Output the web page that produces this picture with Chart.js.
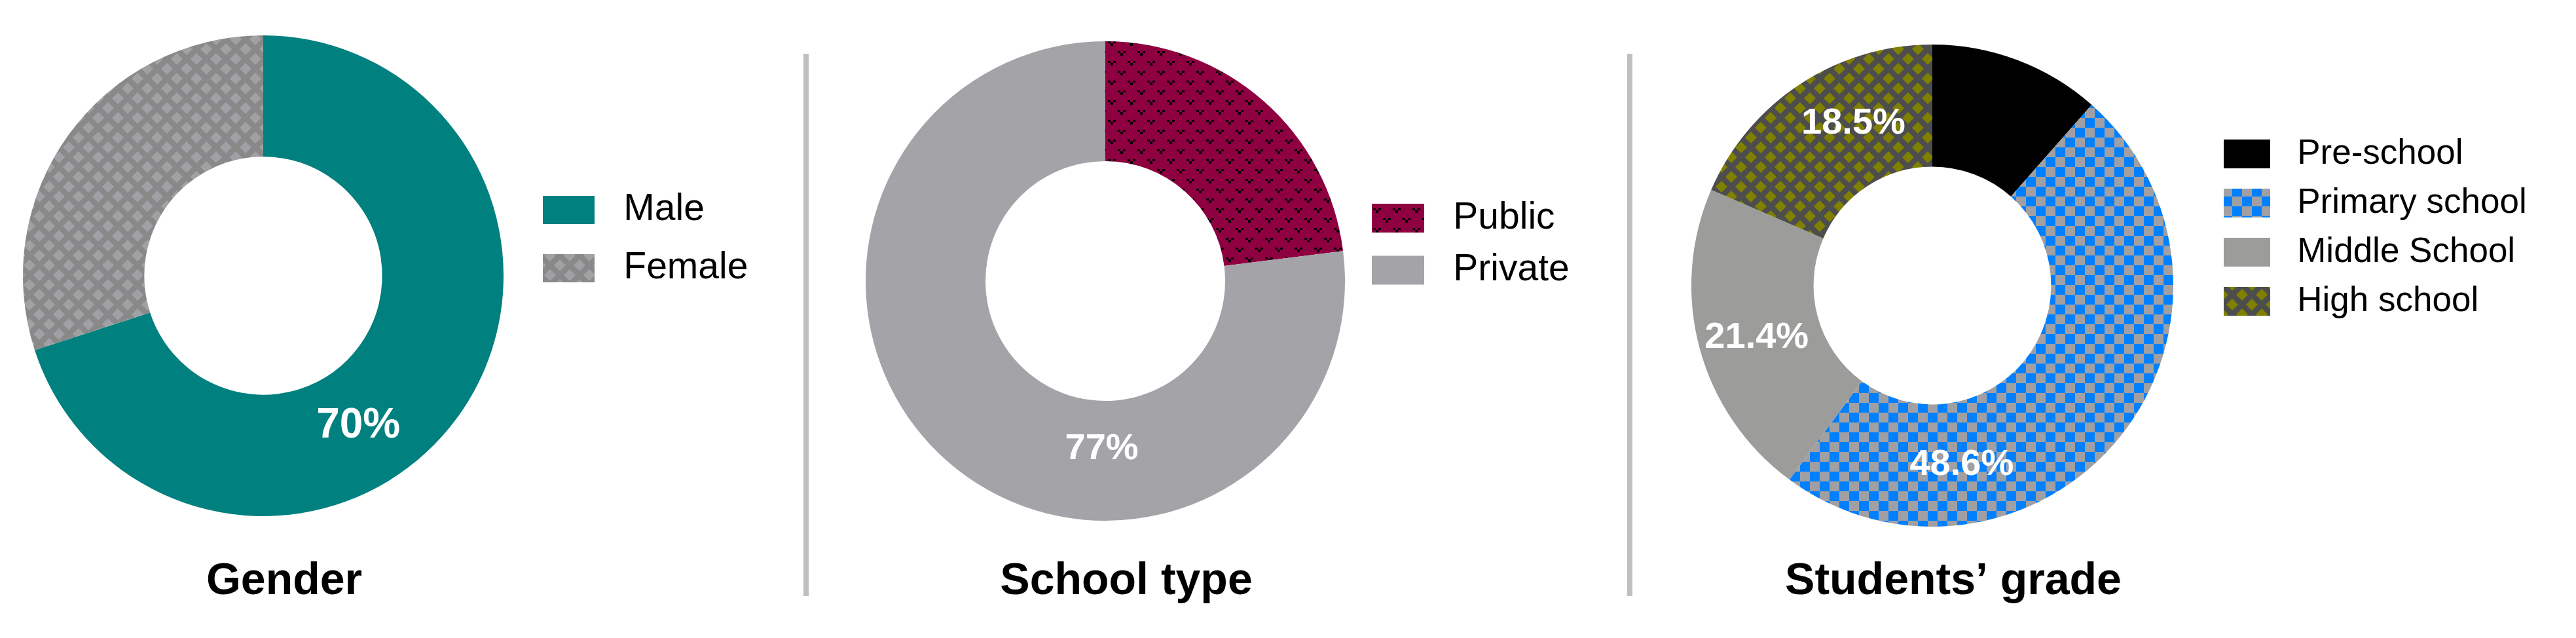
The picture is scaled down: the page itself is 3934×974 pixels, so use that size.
<!DOCTYPE html>
<html>
<head>
<meta charset="utf-8">
<script src="https://cdn.jsdelivr.net/npm/chart.js@4.4.1/dist/chart.umd.min.js"></script>
<style>
  html, body { margin: 0; padding: 0; background: #fff; overflow: hidden; }
  #page { position: relative; width: 3934px; height: 974px; }
  canvas { position: absolute; top: 0; }
  .sep { position: absolute; top: 82px; width: 8px; height: 828px; background: #c0c0c0; }
</style>
</head>
<body>
<div id="page">
  <canvas id="genderChart" width="1230" height="974" style="left:0px"></canvas>
  <div class="sep" style="left:1227px"></div>
  <canvas id="schoolChart" width="1240" height="974" style="left:1240px"></canvas>
  <div class="sep" style="left:2485px"></div>
  <canvas id="gradeChart" width="1440" height="974" style="left:2494px"></canvas>
</div>
<script>
// data
var genderLabels = ['Male', 'Female'];
var genderValues = [70, 30];
var schoolLabels = ['Public', 'Private'];
var schoolValues = [23, 77];
var gradeLabels = ['Pre-school', 'Primary school', 'Middle School', 'High school'];
var gradeValues = [11.5, 48.6, 21.4, 18.5];

var SANS = "'Liberation Sans', Arial, sans-serif";

// --- fill patterns ---
function tile(size) {
    var c = document.createElement('canvas');
    c.width = size; c.height = size;
    return c;
}

function diamondPattern(ctx, lineColor, fillColor) {
    var c = tile(30), g = c.getContext('2d'), d = 9;
    g.fillStyle = lineColor;
    g.fillRect(0, 0, 30, 30);
    g.fillStyle = fillColor;
    [[0, 0], [30, 0], [0, 30], [30, 30], [15, 15]].forEach(function (p) {
        g.beginPath();
        g.moveTo(p[0] - d, p[1]);
        g.lineTo(p[0], p[1] - d);
        g.lineTo(p[0] + d, p[1]);
        g.lineTo(p[0], p[1] + d);
        g.closePath();
        g.fill();
    });
    return ctx.createPattern(c, 'repeat');
}

function checkerPattern(ctx, a, b) {
    var c = tile(30), g = c.getContext('2d');
    g.fillStyle = b;
    g.fillRect(0, 0, 30, 30);
    g.fillStyle = a;
    g.fillRect(0, 0, 15, 15);
    g.fillRect(15, 15, 15, 15);
    return ctx.createPattern(c, 'repeat');
}

function markPattern(ctx, bg, mark) {
    var c = tile(30), g = c.getContext('2d');
    g.fillStyle = bg;
    g.fillRect(0, 0, 30, 30);
    g.fillStyle = mark;
    [[2, 3], [17, 18]].forEach(function (p) {
        g.fillRect(p[0], p[1], 4, 3);
        g.fillRect(p[0] + 8, p[1], 4, 3);
        g.fillRect(p[0] + 4, p[1] + 3, 4, 4);
    });
    return ctx.createPattern(c, 'repeat');
}

// white % labels inside the ring, at a fraction of each slice's sweep
function sliceLabels(at, fmt, font) {
    return {
        id: 'sliceLabels',
        afterDatasetsDraw: function (chart) {
            var ctx = chart.ctx;
            var meta = chart.getDatasetMeta(0);
            var vals = chart.data.datasets[0].data;
            ctx.save();
            ctx.fillStyle = '#fff';
            ctx.font = font;
            ctx.textAlign = 'center';
            ctx.textBaseline = 'middle';
            meta.data.forEach(function (arc, i) {
                if (!at[i]) return;
                var p = arc.getProps(['x', 'y', 'startAngle', 'endAngle', 'outerRadius'], true);
                var a = p.startAngle + at[i][0] * (p.endAngle - p.startAngle);
                var r = at[i][1] * p.outerRadius;
                ctx.fillText(fmt(vals[i]), p.x + Math.cos(a) * r, p.y + Math.sin(a) * r);
            });
            ctx.restore();
        }
    };
}

// legend takes a narrow slot in the layout (so the title sits just right of
// the ring centre) but is allowed to draw its text past that slot
var legendReach = {
    id: 'legendReach',
    afterLayout: function (chart) {
        if (chart.legend) chart.legend.right = chart.width;
    }
};

function spacedLabels(chart) {
    return Chart.overrides.doughnut.plugins.legend.labels.generateLabels(chart).map(function (it) {
        it.text = ' ' + it.text;
        return it;
    });
}

function donut(id, labels, values, colors, cfg) {
    return new Chart(document.getElementById(id), {
        type: 'doughnut',
        data: {
            labels: labels,
            datasets: [{
                data: values,
                backgroundColor: colors,
                borderWidth: 0,
                hoverOffset: 0,
                clip: false
            }]
        },
        options: {
            responsive: false,
            animation: false,
            radius: cfg.radius,
            cutout: cfg.cutout,
            layout: { padding: cfg.pad },
            events: [],
            plugins: {
                tooltip: { enabled: false },
                legend: {
                    position: 'right',
                    align: 'start',
                    maxWidth: 64,
                    labels: {
                        boxWidth: cfg.boxW,
                        boxHeight: cfg.boxH,
                        padding: cfg.legendPad,
                        color: '#000',
                        font: { family: SANS, size: cfg.legendSize },
                        generateLabels: spacedLabels
                    }
                },
                title: {
                    display: true,
                    text: cfg.title,
                    position: 'bottom',
                    color: '#000',
                    font: { family: SANS, size: 68, weight: 'bold', lineHeight: 1.2 },
                    padding: cfg.titlePad
                }
            }
        },
        plugins: [legendReach, sliceLabels(cfg.at, cfg.fmt, cfg.labelFont)]
    });
}

var c1 = document.getElementById('genderChart').getContext('2d');
var c2 = document.getElementById('schoolChart').getContext('2d');
var c3 = document.getElementById('gradeChart').getContext('2d');

donut('genderChart', genderLabels, genderValues,
    ['#00807f', diamondPattern(c1, '#898989', '#a1a1a5')],
    {
        title: 'Gender', radius: 367, cutout: '49.5%',
        pad: { left: 7, right: 369, top: 260, bottom: 0 },
        titlePad: { top: 265.2, bottom: 45.2 },
        boxW: 79, boxH: 43, legendPad: 32, legendSize: 57,
        at: [[0.586, 0.74], null],
        fmt: function (v) { return v + '%'; },
        labelFont: 'bold 64px ' + SANS
    });

donut('schoolChart', schoolLabels, schoolValues,
    [markPattern(c2, '#8e0040', '#000'), '#a4a4a8'],
    {
        title: 'School type', radius: 366, cutout: '50%',
        pad: { left: 63.5, right: 343.5, top: 282, bottom: 0 },
        titlePad: { top: 271.2, bottom: 45.2 },
        boxW: 80, boxH: 44, legendPad: 22.5, legendSize: 57,
        at: [null, [0.355, 0.70]],
        fmt: function (v) { return v + '%'; },
        labelFont: 'bold 56px ' + SANS
    });

donut('gradeChart', gradeLabels, gradeValues,
    ['#000000', checkerPattern(c3, '#0080ff', '#a0a0a4'), '#9c9c9a', diamondPattern(c3, '#4d4d4d', '#808000')],
    {
        title: 'Students\u2019 grade', radius: 368, cutout: '49.3%',
        pad: { left: 34, right: 496, top: 186.5, bottom: 0 },
        titlePad: { top: 161.7, bottom: 45.2 },
        boxW: 71, boxH: 44, legendPad: 22, legendSize: 53,
        at: [null, [0.739, 0.753], [0.483, 0.76], [0.61, 0.748]],
        fmt: function (v) { return v.toFixed(1) + '%'; },
        labelFont: 'bold 56px ' + SANS
    });
</script>
</body>
</html>
